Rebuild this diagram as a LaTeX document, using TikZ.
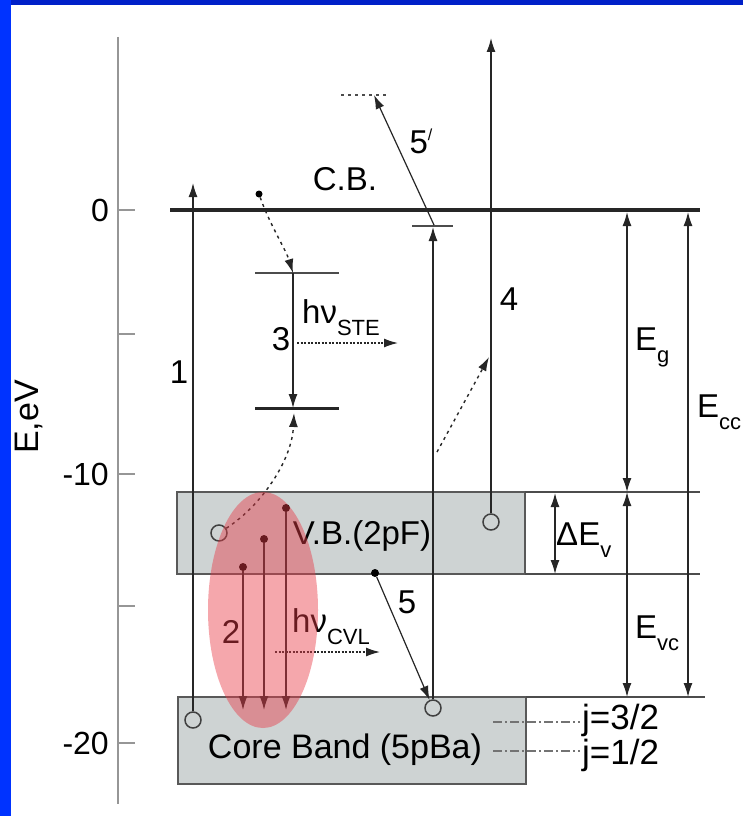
\documentclass[tikz,border=0pt]{standalone}
\usepackage{fontspec}
\setmainfont{Liberation Sans}
\usepackage{tikz}
\usetikzlibrary{positioning, arrows.meta, shapes.geometric, calc}
\definecolor{bandfill}{RGB}{206,211,211}
\definecolor{slidetop}{RGB}{0,32,200}
\definecolor{slideleft}{RGB}{0,51,255}
\definecolor{axisgray}{RGB}{150,150,150}
\definecolor{cvlred}{RGB}{232,60,72}
\newcommand{\lsub}[1]{\raisebox{-12pt}{\fontsize{22}{22}\selectfont #1}}
\newcommand{\lsup}[1]{\raisebox{13pt}{\fontsize{16}{16}\selectfont #1}}
\tikzset{
    lbl/.style={font=\fontsize{33}{35}\selectfont, inner sep=0pt, anchor=base},
    ticklbl/.style={font=\fontsize{32}{34}\selectfont, inner sep=0pt, anchor=base east},
    cbline/.style={line width=4.5pt, black!85},
    lvl/.style={line width=1.5pt, black!70},
    band/.style={draw=black!65, line width=1.5pt, fill=bandfill},
    hole/.style={circle, draw=black!75, line width=1.5pt, inner sep=0pt, minimum size=16pt},
    electron/.style={circle, fill=black, inner sep=0pt, minimum size=8pt},
    arrow/.style={-{Latex[length=14pt, width=9pt]}, line width=1.4pt, black!85},
    dblarrow/.style={{Latex[length=14pt, width=9pt]}-{Latex[length=14pt, width=9pt]}, line width=1.4pt, black!85},
    dotarrow/.style={arrow, dash pattern=on 3pt off 4pt},
    photon/.style={arrow, dash pattern=on 2pt off 1.5pt},
    jline/.style={line width=1.4pt, black!55, dash pattern=on 9pt off 3pt on 2pt off 3pt}
}

\begin{document}
\begin{tikzpicture}[x=1pt, y=-1pt]
\useasboundingbox (0,0) rectangle (743,816);
\fill[slidetop] (0,0) rectangle (743,5);
\fill[slideleft] (0,0) rectangle (11,816);

% energy axis
\draw[axisgray, line width=2pt] (118,37) -- (118,804);
\foreach \y/\t/\b in {210/0/221, 334/{}/345, 474/-10/485, 606/{}/617, 743/-20/754}{
  \draw[axisgray, line width=2pt] (118,\y) -- (135,\y);
  \node[ticklbl] (tick\y) at (109,\b) {\t};
}
\node[lbl, anchor=center, rotate=90, font=\fontsize{34}{36}\selectfont] (eaxis) at (29,417) {E,eV};

% bands
\draw[band] (177,492) rectangle (525,574);
\draw[band] (178,697) rectangle (526,784);
\draw[lvl] (525,492) -- (700,492);
\draw[lvl] (525,574) -- (700,574);
\draw[lvl] (526,697) -- (705,697);
\draw[cbline] (170,210) -- (700,210);

\node[lbl] (cb) at (345,190) {C.B.};
\node[lbl] (vb) at (362,544) {V.B.(2pF)};
\node[lbl, font=\fontsize{34}{36}\selectfont] (core) at (345,758) {Core Band (5pBa)};

% holes and electrons
\node[hole] (h1) at (193,720) {};
\node[hole] (h5) at (433,708) {};
\node[hole] (hv) at (219,533) {};
\node[hole] (h4) at (491,522) {};
\node[electron, minimum size=7pt] (ecb) at (259,194) {};
\node[electron] (ev5) at (375,573) {};
\node[electron] (ev1) at (286,508) {};
\node[electron] (ev2) at (264,539) {};
\node[electron] (ev3) at (243,567) {};

% self-trapped exciton
\draw[lvl] (255,273) -- (339,273);
\draw[line width=3pt, black!85] (255,408) -- (339,408);
\coordinate (steU) at (293,273);
\coordinate (steL) at (293,408);
\coordinate (steLb) at (294,413);
\draw[arrow] (steU) -- (steL);
\draw[dotarrow] (ecb) .. controls (270,225) and (286,250) .. (steU);
\draw[dotarrow] (hv) .. controls (262,505) and (292,460) .. (steLb);
\node[lbl] (n3) at (281,350) {3};
\coordinate (steA) at (297,343);
\coordinate (steB) at (398,343);
\draw[photon] (steA) -- (steB);
\node[lbl, anchor=base west] (hste) at (302,323) {hν\lsub{STE}};

% transitions 1, 4, 5, 5'
\coordinate (a1) at (193,183);
\draw[arrow] (h1) -- (a1);
\node[lbl] (n1) at (179,383) {1};

\draw[lvl] (412,226) -- (453,226);
\coordinate (lev5) at (433,227);
\draw[arrow] (h5) -- (lev5);
\draw[lvl, dash pattern=on 3pt off 4pt] (341,95) -- (389,95);
\coordinate (lev5s) at (434,225);
\coordinate (top5) at (374,95);
\draw[arrow, line width=1.2pt] (lev5s) -- (top5);
\node[lbl] (n5p) at (421,153) {5\lsup{/}};

\coordinate (a4) at (491,38);
\draw[arrow] (h4) -- (a4);
\node[lbl] (n4) at (509,310) {4};
\coordinate (d4a) at (437,452);
\coordinate (d4b) at (489,357);
\draw[dotarrow] (d4a) -- (d4b);

\draw[arrow, line width=1.2pt] (ev5) -- (h5);
\node[lbl] (n5) at (407,613) {5};

% cross-luminescence 2
\foreach \e/\x in {ev1/286, ev2/264, ev3/243}{
  \coordinate (\e b) at (\x,710);
  \draw[arrow] (\e) -- (\e b);
}
\node[lbl] (n2) at (231,643) {2};
\coordinate (cvlA) at (275,652);
\coordinate (cvlB) at (380,652);
\draw[photon] (cvlA) -- (cvlB);
\node[lbl, anchor=base west] (hcvl) at (292,632) {hν\lsub{CVL}};

% energy gaps
\coordinate (dvT) at (555,493);
\coordinate (dvB) at (555,574);
\draw[dblarrow] (dvT) -- (dvB);
\node[lbl, anchor=base west] (ldv) at (556,545) {ΔE\lsub{v}};
\coordinate (egT) at (627,212);
\coordinate (egB) at (627,492);
\draw[dblarrow] (egT) -- (egB);
\node[lbl, anchor=base west] (leg) at (635,350) {E\lsub{g}};
\coordinate (evcT) at (627,492);
\coordinate (evcB) at (627,697);
\draw[dblarrow] (evcT) -- (evcB);
\node[lbl, anchor=base west] (levc) at (635,638) {E\lsub{vc}};
\coordinate (eccT) at (688,212);
\coordinate (eccB) at (688,697);
\draw[dblarrow] (eccT) -- (eccB);
\node[lbl, anchor=base west] (lecc) at (697,417) {E\lsub{cc}};

% spin-orbit levels
\coordinate (j3a) at (493,722);
\coordinate (j3b) at (580,722);
\draw[jline] (j3a) -- (j3b);
\node[lbl, anchor=base west, font=\fontsize{35}{37}\selectfont] (j3) at (582,729) {j=3/2};
\coordinate (j1a) at (493,751);
\coordinate (j1b) at (580,751);
\draw[jline] (j1a) -- (j1b);
\node[lbl, anchor=base west, font=\fontsize{35}{37}\selectfont] (j1) at (582,764) {j=1/2};

% highlight
\node[ellipse, fill=cvlred, fill opacity=0.45, minimum width=110pt, minimum height=236pt, inner sep=0pt] (cvl) at (263,610) {};
\end{tikzpicture}
\end{document}
